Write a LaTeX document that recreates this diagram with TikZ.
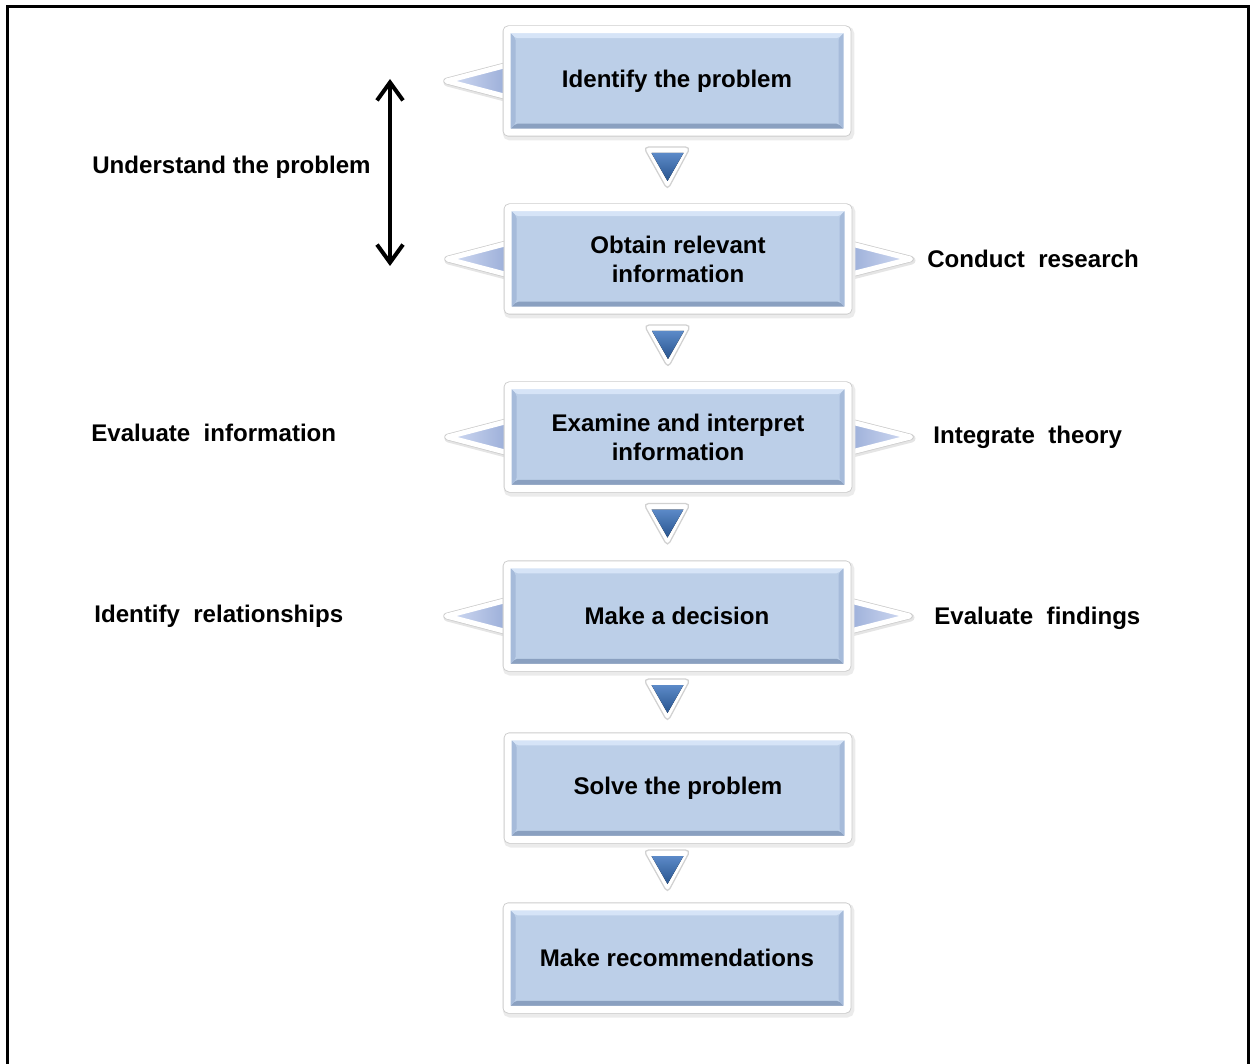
\documentclass[tikz,border=0pt]{standalone}
\usepackage{fontspec}
\setmainfont{Liberation Sans}
\usetikzlibrary{arrows.meta,calc,backgrounds}

\definecolor{boxblue}{RGB}{188,207,232}
\definecolor{boxdark}{RGB}{138,160,192}
\definecolor{boxmid}{RGB}{166,187,218}
\definecolor{boxlite}{RGB}{214,228,247}
\definecolor{triblue}{RGB}{92,138,200}
\definecolor{tridark}{RGB}{40,84,142}
\definecolor{sidelite}{RGB}{212,221,244}
\definecolor{sidedark}{RGB}{150,170,214}
\newcommand\stepfont{\fontsize{13.7pt}{16.4pt}\selectfont\bfseries}

\tikzset{
  bevel/.style={path picture={
    \fill[boxdark] (path picture bounding box.south west) -- (path picture bounding box.south east)
      -- ([shift={(-1.7mm,1.7mm)}]path picture bounding box.south east) -- ([shift={(1.7mm,1.7mm)}]path picture bounding box.south west) -- cycle;
    \fill[boxlite] (path picture bounding box.north west) -- (path picture bounding box.north east)
      -- ([shift={(-1.7mm,-1.7mm)}]path picture bounding box.north east) -- ([shift={(1.7mm,-1.7mm)}]path picture bounding box.north west) -- cycle;
    \fill[boxmid] (path picture bounding box.south west) -- (path picture bounding box.north west)
      -- ([shift={(1.7mm,-1.7mm)}]path picture bounding box.north west) -- ([shift={(1.7mm,1.7mm)}]path picture bounding box.south west) -- cycle;
    \fill[boxmid] (path picture bounding box.south east) -- (path picture bounding box.north east)
      -- ([shift={(-1.7mm,-1.7mm)}]path picture bounding box.north east) -- ([shift={(-1.7mm,1.7mm)}]path picture bounding box.south east) -- cycle;
  }},
  stepbox/.style={rectangle, draw=white, line width=1.4mm, rounded corners=0.4mm, fill=boxblue,
    minimum width=68mm, minimum height=20.5mm, align=center, font=\stepfont, bevel,
    preaction={draw=black!8, line width=2.3mm, transform canvas={shift={(0.3mm,-0.5mm)}}},
    preaction={draw=black!20, line width=1.75mm}},
  sidetri/.style={draw=white, line width=1mm, line join=round,
    preaction={draw=black!10, line width=1.6mm, line join=round, transform canvas={shift={(0.2mm,-0.3mm)}}},
    preaction={draw=black!20, line width=1.3mm, line join=round}},
  sidelabel/.style={anchor=west, inner sep=0pt, font=\stepfont},
  dblarrow/.style={{Straight Barb[length=3.6mm,width=5.2mm]}-{Straight Barb[length=3.6mm,width=5.2mm]}, line width=0.8mm}
}

\begin{document}
\begin{tikzpicture}[x=0.2mm, y=-0.2mm]
\useasboundingbox (0,0) rectangle (1250,1064);
\draw[line width=0.6mm] (7,1070) -- (7,7) -- (1248,7) -- (1248,1070);

\node[stepbox] (b1) at (677,81) {Identify the problem};
\node[stepbox] (b2) at (678,259) {Obtain relevant\\information};
\node[stepbox] (b3) at (678,437) {Examine and interpret\\information};
\node[stepbox] (b4) at (677,616) {Make a decision};
\node[stepbox] (b5) at (678,788) {Solve the problem};
\node[stepbox] (b6) at (677,958) {Make recommendations};

\begin{scope}[on background layer]
\foreach \b in {b1,b2,b3,b4}
    \draw[sidetri, left color=sidelite, right color=sidedark] ($(\b.west)+(-57,0)$) -- ($(\b.west)+(8,-17)$) -- ($(\b.west)+(8,17)$) -- cycle;
\foreach \b in {b2,b3,b4}
    \draw[sidetri, left color=sidedark, right color=sidelite] ($(\b.east)+(59,0)$) -- ($(\b.east)+(-8,-17)$) -- ($(\b.east)+(-8,17)$) -- cycle;
\end{scope}

\foreach \a/\b in {b1/b2,b2/b3,b3/b4,b4/b5,b5/b6}{
    \coordinate (m) at ($(\a.south)!0.5!(\b.north)+(-10,-2)$);
    \filldraw[fill=white, draw=black!18, line width=0.25mm, rounded corners=1mm]
        ($(m)+(-24,-21)$) -- ($(m)+(23,-21)$) -- ($(m)+(0,22)$) -- cycle;
    \fill[top color=triblue, bottom color=tridark] ($(m)+(-16,-15)$) -- ($(m)+(16,-15)$) -- ($(m)+(0,13)$) -- cycle;
}

\coordinate (ut) at (390,79);
\coordinate (ub) at (390,266);
\draw[dblarrow] (ut) -- (ub);

\node[sidelabel] (lu) at (92,167) {Understand the problem};
\node[sidelabel] (lc) at (927,259) {Conduct\ \ research};
\node[sidelabel] (le) at (91,433) {Evaluate\ \ information};
\node[sidelabel] (li) at (933,437) {Integrate\ \ theory};
\node[sidelabel] (lr) at (94,616) {Identify\ \ relationships};
\node[sidelabel] (lf) at (934,618) {Evaluate\ \ findings};
\end{tikzpicture}
\end{document}
